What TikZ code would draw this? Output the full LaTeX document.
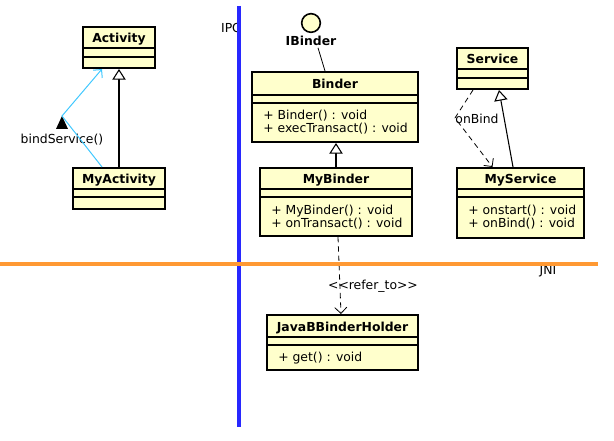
\documentclass[tikz,border=0pt]{standalone}
\usepackage{fontspec}
\setmainfont{DejaVu Sans}
\usetikzlibrary{
  arrows.meta,
  positioning,
  calc,
  fit
}
\definecolor{classfill}{HTML}{FFFFCC}
\definecolor{ipcblue}{HTML}{2828FF}
\definecolor{jniorange}{HTML}{FF9933}
\definecolor{callcyan}{HTML}{40C8FF}

\begin{document}
\begin{tikzpicture}[
  x=0.75pt, y=-0.75pt,
  every node/.style={font=\fontsize{9.3}{9.75}\selectfont},
  classbox/.style={draw, line width=1.5pt, fill=classfill, inner sep=0pt},
  classtitle/.style={anchor=base, font=\fontsize{9.3}{9.75}\selectfont\bfseries},
  classops/.style={anchor=north west, align=left, inner sep=0pt},
  classsep/.style={line width=0.8pt},
  inherit/.style={-{Triangle[open,fill=white,length=8pt,width=10pt]}, line width=0.8pt},
  depend/.style={-{Straight Barb[length=4.5pt,width=9pt]}, dash pattern=on 4pt off 3pt, line width=0.6pt},
  >=Stealth
]
\useasboundingbox (0,0) rectangle (614,441);

% left side
\node[classbox, fit={(83,27) (155,68)}] (activity) {};
\node[classtitle] (activitytitle) at (activity.north |- 0,43) {Activity};
\draw[classsep] (activity.west |- 0,48) -- (activity.east |- 0,48);
\draw[classsep] (activity.west |- 0,57) -- (activity.east |- 0,57);

\node[classbox, fit={(73,168) (165,209)}] (myactivity) {};
\node[classtitle] (myactivitytitle) at (myactivity.north |- 0,184) {MyActivity};
\draw[classsep] (myactivity.west |- 0,189) -- (myactivity.east |- 0,189);
\draw[classsep] (myactivity.west |- 0,197) -- (myactivity.east |- 0,197);

\draw[inherit] (myactivity) -- (activity);

\coordinate (bindbend) at (62,116);
\node (bindlbl) at (62,140) {bindService()};
\fill (62,116) -- (68,129) -- (56,129) -- cycle;
\draw[callcyan, line width=0.75pt, -{Straight Barb[length=4.5pt,width=9pt]}]
  ($(myactivity.north)+(-17,0)$) -- (bindbend) -- ($(activity.south)+(-17,0)$);

% binder
\node[circle, draw, line width=1.2pt, fill=classfill, minimum size=14pt, inner sep=0pt] (ibinder) at (311,23) {};
\node[classtitle, inner sep=1pt] (ibinderlbl) at (311,46) {IBinder};

\node[classbox, fit={(252,72) (418,142)}] (binder) {};
\node[classtitle] (bindertitle) at (binder.north |- 0,89) {Binder};
\draw[classsep] (binder.west |- 0,95) -- (binder.east |- 0,95);
\draw[classsep] (binder.west |- 0,103) -- (binder.east |- 0,103);
\node[classops] (binderops) at (263,110) {+ Binder() : void\\+ execTransact() : void};

\draw[line width=0.6pt] ($(ibinderlbl.south)+(7,0)$) -- ($(binder.north)+(-10,0)$);

\node[classbox, fit={(260,168) (412,236)}] (mybinder) {};
\node[classtitle] (mybindertitle) at (mybinder.north |- 0,184) {MyBinder};
\draw[classsep] (mybinder.west |- 0,189) -- (mybinder.east |- 0,189);
\draw[classsep] (mybinder.west |- 0,197) -- (mybinder.east |- 0,197);
\node[classops] (mybinderops) at (271,205) {+ MyBinder() : void\\+ onTransact() : void};

\draw[inherit] (mybinder.north) -- (mybinder.north |- binder.south);

% service
\node[classbox, fit={(457,48) (528,89)}] (service) {};
\node[classtitle] (servicetitle) at (service.north |- 0,64) {Service};
\draw[classsep] (service.west |- 0,69) -- (service.east |- 0,69);
\draw[classsep] (service.west |- 0,78) -- (service.east |- 0,78);

\node[classbox, fit={(457,168) (584,238)}] (myservice) {};
\node[classtitle] (myservicetitle) at (myservice.north |- 0,184) {MyService};
\draw[classsep] (myservice.west |- 0,189) -- (myservice.east |- 0,189);
\draw[classsep] (myservice.west |- 0,197) -- (myservice.east |- 0,197);
\node[classops] (myserviceops) at (468,205) {+ onstart() : void\\+ onBind() : void};

\draw[inherit] ($(myservice.north)+(-7.5,0)$) -- ($(service.south)+(6.5,0)$);

\coordinate (onbindbend) at (455,118);
\draw[depend] ($(service.south)+(-19.5,0)$) -- (onbindbend) -- ($(myservice.north)+(-28,0)$);
\node (onbindlbl) at (477,119) {onBind};

% native side
\node[classbox, fit={(267,315) (418,370)}] (holder) {};
\node[classtitle] (holdertitle) at (holder.north |- 0,332) {JavaBBinderHolder};
\draw[classsep] (holder.west |- 0,337) -- (holder.east |- 0,337);
\draw[classsep] (holder.west |- 0,345) -- (holder.east |- 0,345);
\node[classops] (holderops) at (278,352) {+ get() : void};

\draw[depend] ($(mybinder.south)+(2,0)$) -- ($(holder.north)+(-1.5,0)$);
\node (referlbl) at (373,286) {<\kern0pt<refer\_to>\kern0pt>};

% layer lines
\node (ipclbl) at (231,28) {IPC};
\node (jnilbl) at (548,271) {JNI};
\draw[ipcblue, line width=2.4pt] (239,6) -- (239,427);
\draw[jniorange, line width=2.4pt] (0,264) -- (598,264);

\end{tikzpicture}
\end{document}
